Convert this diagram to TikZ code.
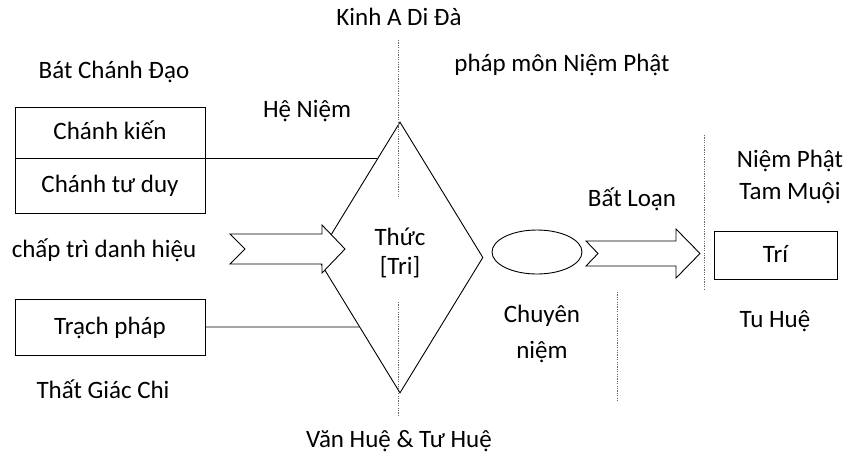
\documentclass[tikz,border=0pt]{standalone}
\usepackage{fontspec}
\setmainfont{Carlito}
\usetikzlibrary{shapes.geometric,calc}
\tikzset{
  lbl/.style={anchor=base, inner sep=0pt},
  mlbl/.style={anchor=base, inner sep=0pt, align=center},
  boxnode/.style={draw, line width=0.9pt, minimum width=190pt, inner sep=0pt, text height=18pt, text depth=4pt},
  shapeline/.style={line width=0.9pt},
  dotline/.style={draw=black!60, line width=0.9pt, dash pattern=on 1.2pt off 1.2pt},
  blockarrow/.style={draw, fill=white, line width=0.9pt, line join=miter},
}
\begin{document}
\begin{tikzpicture}[x=1pt, y=-1pt, font=\fontsize{25}{32}\selectfont]
\useasboundingbox (0,0) rectangle (854,459);

% diamond
\node[draw, shapeline, diamond, minimum width=166pt, minimum height=271pt, inner sep=0pt, align=center, font=\fontsize{25}{29}\selectfont, text depth=12pt] (dm) at (400,257.5) {Thức\\{[Tri]}};

% left boxes
\node[boxnode, minimum height=51pt] (ck) at (110,132.5) {Chánh kiến};
\node[boxnode, minimum height=55pt] (ctd) at (110,185.5) {Chánh tư duy};
\node[boxnode, minimum height=56pt] (tp) at (110,327) {Trạch pháp};

% connectors to diamond
\draw[shapeline] (ck.south east) -- (intersection of ck.south west--ck.south east and dm.north--dm.west);
\draw[shapeline] (tp.east) -- (intersection of tp.west--tp.east and dm.west--dm.south);

% dotted guide lines
\coordinate (g1a) at (398,40);  \coordinate (g1b) at (398,197);
\coordinate (g1c) at (398,302); \coordinate (g1d) at (398,417);
\coordinate (g2a) at (617,292); \coordinate (g2b) at (617,402);
\coordinate (g3a) at (704,135); \coordinate (g3b) at (704,290);
\draw[dotline] (g1a) -- (g1b);
\draw[dotline] (g1c) -- (g1d);
\draw[dotline] (g2a) -- (g2b);
\draw[dotline] (g3a) -- (g3b);

% block arrows
\draw[blockarrow] (230,234) -- (322,234) -- (322,225) -- (345,249) -- (322,273) -- (322,264) -- (230,264) -- (245,249) -- cycle;
\draw[blockarrow] (586,241) -- (676,241) -- (676,229) -- (700,253.5) -- (676,278) -- (676,266) -- (586,266) -- (598,253.5) -- cycle;

% ellipse and result box
\node[draw, shapeline, ellipse, minimum width=90pt, minimum height=44pt, inner sep=0pt] (el) at (537,252) {};
\node[boxnode, minimum width=123pt, minimum height=48pt] (tri) at (775.5,255) {Trí};

% labels
\node[lbl] (t1) at (399,25) {Kinh A Di Đà};
\node[lbl] (t2) at (114,78) {Bát Chánh Đạo};
\node[lbl] (t3) at (562,71) {pháp môn Niệm Phật};
\node[lbl] (t4) at (307,117) {Hệ Niệm};
\node[lbl] (t5) at (104,257) {chấp trì danh hiệu};
\node[lbl] (t6) at (103,398) {Thất Giác Chi};
\node[lbl] (t7) at (399,447) {Văn Huệ \& Tư Huệ};
\node[lbl] (t8) at (632,206) {Bất Loạn};
\node[mlbl] (t9) at (790,199) {Niệm Phật\\Tam Muội};
\node[mlbl, font=\fontsize{25}{36}\selectfont] (t10) at (542,358) {Chuyên\\niệm};
\node[lbl] (t11) at (775,327) {Tu Huệ};
\end{tikzpicture}
\end{document}
